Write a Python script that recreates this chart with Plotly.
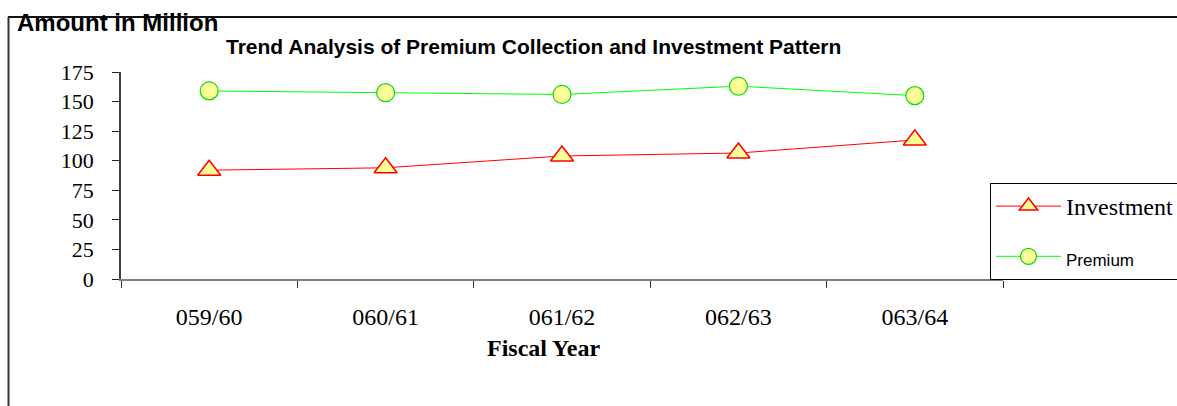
import plotly.graph_objects as go

# Data
fiscal_years = ["059/60", "060/61", "061/62", "062/63", "063/64"]
investment = [92, 94, 104, 106.5, 117.5]
premium = [159, 157.5, 156, 163, 155]

y_ticks = [0, 25, 50, 75, 100, 125, 150, 175]

W, H = 1177, 406
L, R, T, B = 121, 174, 72, 127
plot_w = W - L - R
plot_h = H - T - B


def px_x(px):
    return (px - L) / plot_w


def px_y(py):
    return (H - B - py) / plot_h


fig = go.Figure()

fig.add_trace(
    go.Scatter(
        x=fiscal_years,
        y=investment,
        name="Investment",
        mode="lines+markers",
        line={"color": "#FF0000", "width": 1},
        marker={"symbol": "triangle-up", "size": 20, "color": "#FFFF99",
                "line": {"color": "#FF0000", "width": 1.5}},
        legendgroup="inv",
    )
)
fig.add_trace(
    go.Scatter(
        x=fiscal_years,
        y=premium,
        name="<span style='font-family:Liberation Sans, Arial;font-size:17px'>Premium</span>",
        mode="lines+markers",
        line={"color": "#00FF00", "width": 1},
        marker={"symbol": "circle", "size": 18, "color": "#FFFF99",
                "line": {"color": "#00E000", "width": 1.2}},
        legendgroup="prem",
    )
)

serif = "Liberation Serif, Times New Roman, serif"
sans = "Liberation Sans, Arial, sans-serif"

fig.update_layout(
    width=W, height=H,
    margin={"l": L, "r": R, "t": T, "b": B, "autoexpand": False},
    paper_bgcolor="white",
    plot_bgcolor="white",
    showlegend=True,
    legend={
        "x": px_x(990), "y": px_y(183), "xanchor": "left", "yanchor": "top",
        "bordercolor": "#000000", "borderwidth": 1, "bgcolor": "white",
        "font": {"family": serif, "size": 24, "color": "black"},
        "itemwidth": 65, "tracegroupgap": 16,
    },
    xaxis={
        "type": "category",
        "range": [-0.5, 4.5],
        "showline": True, "linecolor": "#808080", "linewidth": 2,
        "ticks": "outside", "tickson": "boundaries", "ticklen": 7,
        "tickcolor": "#333333", "tickwidth": 1,
        "tickfont": {"family": serif, "size": 24, "color": "black"},
        "ticklabelstandoff": 15,
        "showgrid": False, "zeroline": False,
    },
    yaxis={
        "range": [0, 175],
        "tickvals": y_ticks,
        "showline": True, "linecolor": "#404040", "linewidth": 1.5,
        "ticks": "outside", "ticklen": 7, "tickcolor": "#222222", "tickwidth": 1,
        "tickfont": {"family": serif, "size": 22, "color": "black"},
        "ticklabelstandoff": 14,
        "showgrid": False, "zeroline": False,
    },
    annotations=[
        {"text": "<b>Amount in Million</b>", "xref": "paper", "yref": "paper",
         "x": px_x(15), "y": px_y(22), "xanchor": "left", "yanchor": "middle",
         "showarrow": False, "font": {"family": sans, "size": 24, "color": "black"}},
        {"text": "<b>Trend Analysis of Premium Collection and Investment Pattern</b>",
         "xref": "paper", "yref": "paper",
         "x": px_x(533), "y": px_y(46), "xanchor": "center", "yanchor": "middle",
         "showarrow": False, "font": {"family": sans, "size": 21, "color": "black"}},
        {"text": "<b>Fiscal Year</b>", "xref": "paper", "yref": "paper",
         "x": px_x(543), "y": px_y(348), "xanchor": "center", "yanchor": "middle",
         "showarrow": False, "font": {"family": serif, "size": 24, "color": "black"}},
    ],
    shapes=[
        {"type": "line", "xref": "paper", "yref": "paper",
         "x0": px_x(8), "x1": px_x(W + 5), "y0": px_y(17), "y1": px_y(17),
         "line": {"color": "#111111", "width": 2}},
        {"type": "line", "xref": "paper", "yref": "paper",
         "x0": px_x(8.5), "x1": px_x(8.5), "y0": px_y(17), "y1": px_y(H + 5),
         "line": {"color": "#333333", "width": 2}},
    ],
)

fig.write_html("out.html", config={"displayModeBar": False},
               post_script="document.body.style.margin='0px';")
